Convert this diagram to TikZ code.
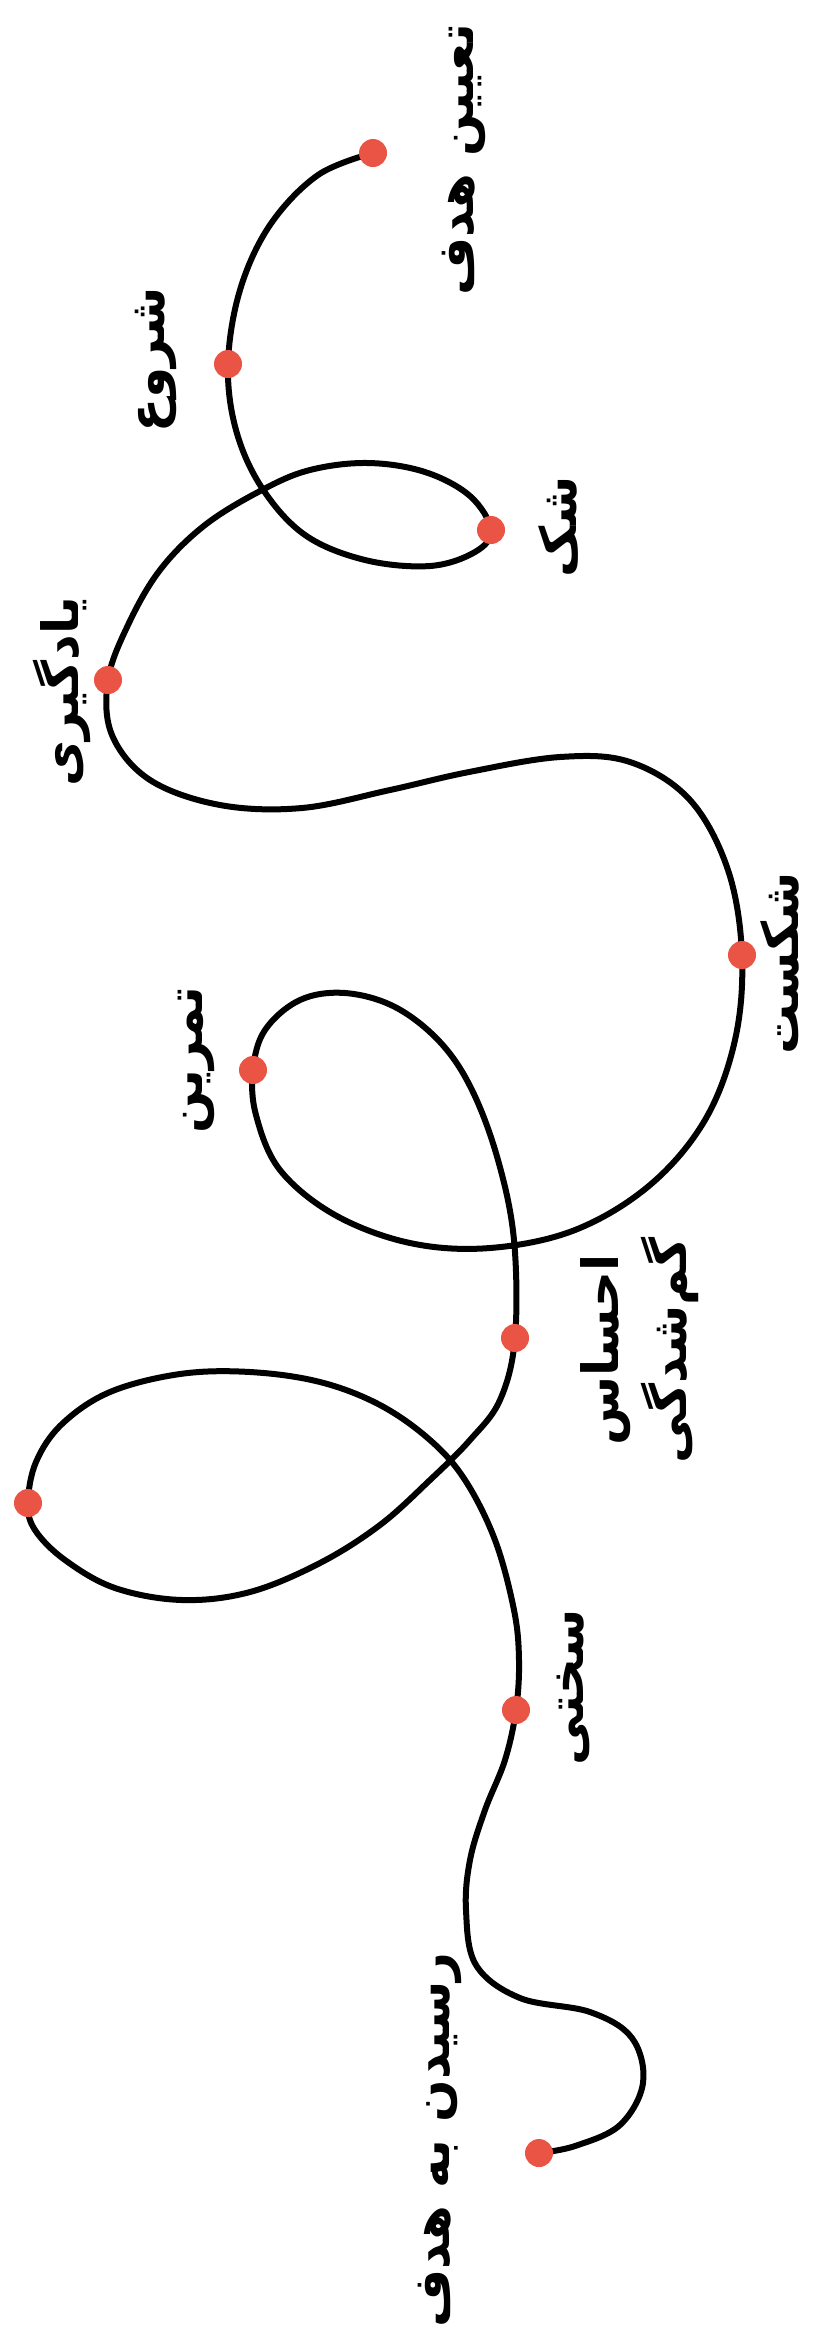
\documentclass[tikz,border=0pt]{standalone}
\usepackage{fontspec}
\newfontfamily\farsifont[Script=Arabic]{DejaVu Sans}
\TeXXeTstate=1
\definecolor{dotred}{RGB}{234,84,68}

\begin{document}
\begin{tikzpicture}[x=1pt,y=-1pt,
    trail/.style={line width=6pt,line cap=round,line join=round},
    milestone/.style={rotate=90,font=\farsifont\bfseries\fontsize{50}{68}\selectfont,
      inner sep=0pt,align=center}]
  \useasboundingbox[fill=white] (0,0) rectangle (817,2330);

  % points on the road
  \coordinate (goal)     at (373,153);
  \coordinate (start)    at (228,364);
  \coordinate (doubt)    at (491,530);
  \coordinate (learning) at (108,680);
  \coordinate (failure)  at (742,955);
  \coordinate (practice) at (253,1070);
  \coordinate (lost)     at (515,1338);
  \coordinate (far)      at (28,1503);
  \coordinate (hardship) at (516,1710);
  \coordinate (reached)  at (539,2153);

  \draw[trail] plot[smooth,tension=0.6] coordinates {
    (goal) (318,175) (270,225) (240,290) (start)
    (236,430) (262,488) (305,535) (365,560) (430,566) (475,552) (doubt)
    (470,496) (425,472) (368,463) (310,470) (262,490) (205,525) (160,570)
    (128,625) (learning)
    (112,735) (150,780) (220,805) (302,808) (390,790) (469,772) (560,757)
    (630,762) (690,800) (728,870) (failure)
    (735,1040) (705,1120) (650,1185) (575,1230) (490,1248) (410,1243)
    (335,1215) (280,1170) (256,1115) (practice)
    (265,1030) (300,1000) (345,993) (395,1007) (440,1042) (472,1090)
    (498,1160) (514,1240) (lost)
    (500,1400) (470,1440) (430,1480) (380,1525) (320,1563) (250,1592)
    (182,1600) (115,1588) (65,1560) (35,1530) (far)
    (36,1462) (62,1424) (110,1392) (180,1374) (250,1372) (320,1382)
    (380,1405) (430,1440) (465,1480) (495,1540) (514,1610) (519,1660)
    (hardship)
    (505,1760) (485,1810) (470,1860) (466,1910) (476,1965) (520,1998)
    (590,2012) (632,2038) (643,2083) (620,2125) (575,2146) (reached)};

  \foreach \p in {goal,start,doubt,learning,failure,practice,lost,far,hardship,reached}
    \fill[dotred] (\p) circle (14);

  % labels
  \node[milestone] (goal text)     at (464,160)  {\beginR تعیین هدف\endR};
  \node[milestone] (start text)    at (156,360)  {\beginR شروع\endR};
  \node[milestone] (doubt text)    at (558,527)  {\beginR شک\endR};
  \node[milestone] (learning text) at (62,692)   {\beginR یادگیری\endR};
  \node[milestone] (failure text)  at (780,963)  {\beginR شکست\endR};
  \node[milestone] (practice text) at (196,1060) {\beginR تمرین\endR};
  \node[milestone] (lost text)     at (640,1350) {\beginR احساس\endR\\\beginR گم‌شدگی\endR};
  \node[milestone] (hardship text) at (573,1687) {\beginR سختی\endR};
  \node[milestone] (reached text)  at (440,2140) {\beginR رسیدن به هدف\endR};
\end{tikzpicture}
\end{document}
